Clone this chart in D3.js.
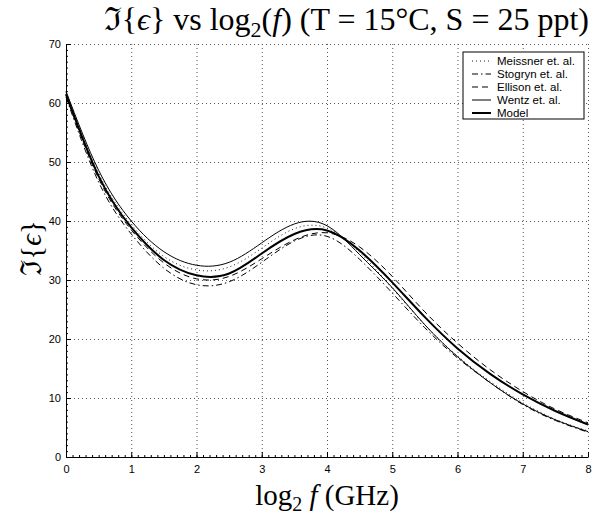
<!DOCTYPE html>
<html lang="en">
<head>
<meta charset="UTF-8">
<title>Im{eps} vs log2(f)</title>
<script src="https://d3js.org/d3.v7.min.js"></script>
<style>
  body { margin: 0; background: white; }
  svg text { fill: #000; }
  .tick text { font-family: "Liberation Sans", Arial, sans-serif; font-size: 11px; }
  .serif { font-family: "Liberation Serif", "Times New Roman", "DejaVu Serif", serif; }
</style>
</head>
<body>
<svg id="chart" width="596" height="516"></svg>
<script>
// log2 of frequency in GHz, sampled every half unit
const logF = [0, 0.5, 1, 1.5, 2, 2.5, 3, 3.5, 4, 4.5, 5, 5.5, 6, 6.5, 7, 7.5, 8];

// imaginary part of permittivity
const meissner = [61.8, 48.1, 39.4, 34.0, 31.7, 32.2, 35.4, 38.7, 38.8, 34.7, 28.6, 22.4, 17.1, 12.8, 9.2, 6.4, 4.4];
const stogryn  = [61.0, 46.6, 37.8, 32.0, 29.2, 29.7, 33.0, 36.6, 37.4, 33.5, 27.8, 21.9, 16.8, 12.6, 8.9, 6.2, 4.2];
const ellison  = [61.3, 47.2, 38.5, 32.9, 30.2, 30.6, 33.6, 36.8, 38.0, 35.6, 30.6, 24.6, 19.3, 14.8, 11.1, 8.1, 5.8];
const wentz    = [62.0, 48.6, 40.0, 34.8, 32.5, 33.0, 36.3, 39.5, 39.2, 34.3, 28.7, 22.4, 17.0, 12.6, 9.0, 6.3, 4.3];
const model    = [61.5, 47.6, 38.9, 33.4, 30.8, 31.1, 34.5, 37.8, 38.4, 35.0, 29.6, 23.7, 18.4, 14.1, 10.6, 7.8, 5.5];

const seriesNames = ["Meissner et. al.", "Stogryn et. al.", "Ellison et. al.", "Wentz et. al.", "Model"];
const xTicks = [0, 1, 2, 3, 4, 5, 6, 7, 8];
const yTicks = [0, 10, 20, 30, 40, 50, 60, 70];

const svg = d3.select("#chart");
const mLeft = 66, mRight = 588, mTop = 44, mBottom = 457;

const x = d3.scaleLinear().domain([0, 8]).range([mLeft, mRight]);
const y = d3.scaleLinear().domain([0, 70]).range([mBottom, mTop]);

// dotted grid
const grid = svg.append("g")
  .attr("stroke", "#555")
  .attr("stroke-width", 1)
  .attr("stroke-dasharray", "1,3");
grid.selectAll(".gx").data(xTicks.slice(1)).enter().append("line")
  .attr("x1", d => x(d) + 0.5).attr("x2", d => x(d) + 0.5)
  .attr("y1", mTop).attr("y2", mBottom);
grid.selectAll(".gy").data(yTicks.slice(1)).enter().append("line")
  .attr("x1", mLeft).attr("x2", mRight)
  .attr("y1", d => y(d) + 0.5).attr("y2", d => y(d) + 0.5);

// curves
const styles = [
  { data: meissner, width: 1, dash: "1,3", color: "#222" },
  { data: stogryn, width: 1, dash: "6,3,1.5,3", color: "#000" },
  { data: ellison, width: 1, dash: "6,4", color: "#000" },
  { data: wentz, width: 1, dash: null, color: "#000" },
  { data: model, width: 2, dash: null, color: "#000" }
];

const line = d3.line()
  .x((d, i) => x(logF[i]))
  .y(d => y(d))
  .curve(d3.curveNatural);

svg.append("g").selectAll("path")
  .data(styles)
  .enter().append("path")
  .attr("d", d => line(d.data))
  .attr("fill", "none")
  .attr("stroke", d => d.color)
  .attr("stroke-width", d => d.width)
  .attr("stroke-dasharray", d => d.dash);

// axes with minor ticks
const minorX = d3.range(0, 80.5).map(d => d / 10);
const minorY = d3.range(0, 71);

svg.append("g")
  .attr("transform", `translate(0,${mBottom})`)
  .call(d3.axisBottom(x).tickValues(minorX).tickSize(-2).tickSizeOuter(0).tickFormat(""))
  .call(g => g.select(".domain").remove());
svg.append("g")
  .attr("transform", `translate(${mLeft},0)`)
  .call(d3.axisLeft(y).tickValues(minorY).tickSize(-2).tickSizeOuter(0).tickFormat(""))
  .call(g => g.select(".domain").remove());

svg.append("g")
  .attr("transform", `translate(0,${mBottom})`)
  .call(d3.axisBottom(x).tickValues(xTicks).tickSize(-5).tickSizeOuter(0).tickPadding(8));
svg.append("g")
  .attr("transform", `translate(${mLeft},0)`)
  .call(d3.axisLeft(y).tickValues(yTicks).tickSize(-5).tickSizeOuter(0).tickPadding(5));

svg.selectAll(".domain").attr("stroke", "#000");

// title
const title = svg.append("text")
  .attr("class", "serif")
  .attr("x", 589)
  .attr("y", 30)
  .attr("text-anchor", "end")
  .style("font-size", "32px");
title.append("tspan").text("\u2111{");
title.append("tspan").style("font-style", "italic").text("\u03f5");
title.append("tspan").text("} vs log");
title.append("tspan").attr("dy", 7).style("font-size", "22px").text("2");
title.append("tspan").attr("dy", -7).text("(");
title.append("tspan").style("font-style", "italic").text("f");
title.append("tspan").text(") (T = 15\u00b0C, S = 25 ppt)");

// x label
const xl = svg.append("text")
  .attr("class", "serif")
  .attr("x", (mLeft + mRight) / 2)
  .attr("y", 505)
  .attr("text-anchor", "middle")
  .style("font-size", "29px");
xl.append("tspan").text("log");
xl.append("tspan").attr("dy", 6).style("font-size", "20px").text("2");
xl.append("tspan").attr("dy", -6).text(" ");
xl.append("tspan").style("font-style", "italic").text("f");
xl.append("tspan").text("  (GHz)");

// y label
const yl = svg.append("text")
  .attr("class", "serif")
  .attr("transform", `translate(41,248) rotate(-90)`)
  .attr("text-anchor", "middle")
  .style("font-size", "29px");
yl.append("tspan").text("\u2111{");
yl.append("tspan").style("font-style", "italic").text("\u03f5");
yl.append("tspan").text("}");

// legend
const lg = svg.append("g").attr("transform", "translate(463,52)");
lg.append("rect")
  .attr("width", 121).attr("height", 67)
  .attr("fill", "white").attr("stroke", "#000").attr("stroke-width", 1);
const items = lg.selectAll(".item").data(styles).enter().append("g")
  .attr("transform", (d, i) => `translate(0,${9 + i * 13})`);
items.append("line")
  .attr("x1", 9).attr("x2", 28)
  .attr("stroke", d => d.color)
  .attr("stroke-width", d => d.width)
  .attr("stroke-dasharray", d => d.dash);
items.append("text")
  .attr("x", 34).attr("dy", "0.35em")
  .style("font-family", "'Liberation Sans', Arial, sans-serif")
  .style("font-size", "11.5px")
  .text((d, i) => seriesNames[i]);
</script>
</body>
</html>
